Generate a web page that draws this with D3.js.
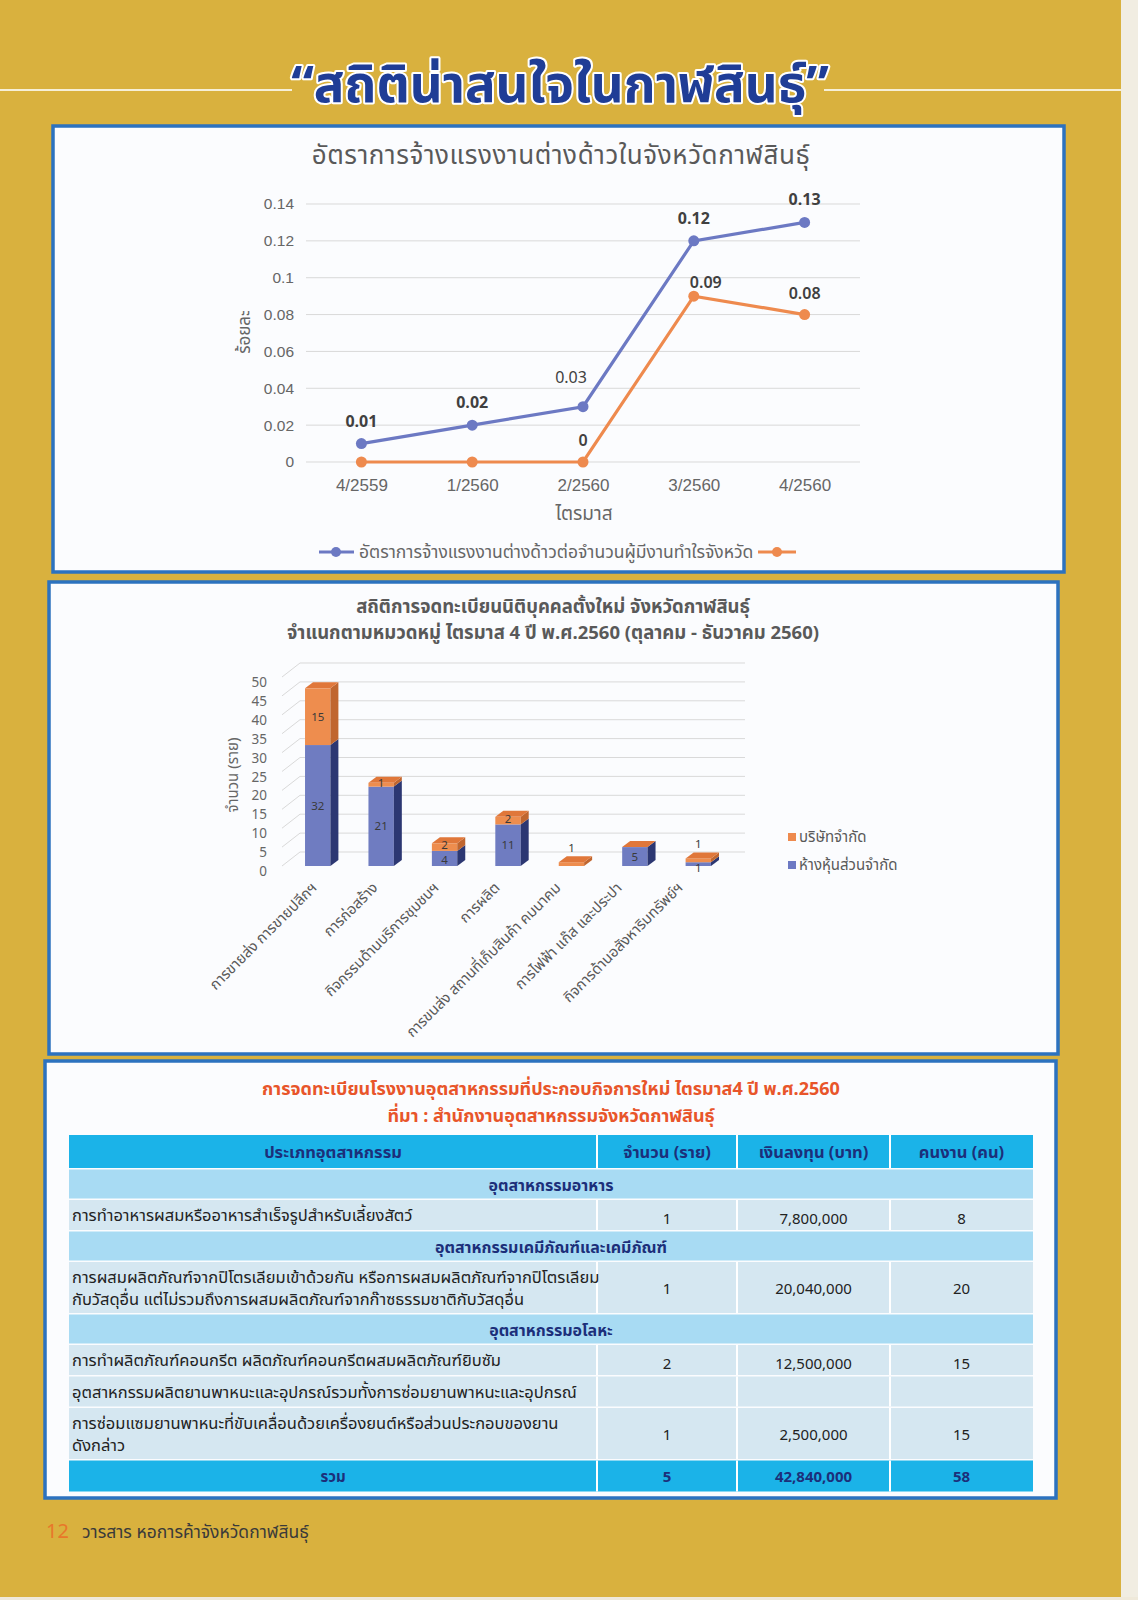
<!DOCTYPE html>
<html>
<head>
<meta charset="utf-8">
<script src="https://cdn.jsdelivr.net/npm/d3@7"></script>
<style>
  body { margin: 0; background: #d9b13e; }
  svg { display: block; font-family: "Noto Sans Thai", "Noto Sans", sans-serif; }
</style>
</head>
<body>
<svg id="page"></svg>
<script>
// ---- line chart data ----
const quarters = ['4/2559', '1/2560', '2/2560', '3/2560', '4/2560'];
const foreignRate = [0.01, 0.02, 0.03, 0.12, 0.13];
const secondRate = [0, 0, 0, 0.09, 0.08];
const rateTicks = [0, 0.02, 0.04, 0.06, 0.08, 0.1, 0.12, 0.14];

// ---- bar chart data ----
const sectors = [
  'การขายส่ง การขายปลีกฯ',
  'การก่อสร้าง',
  'กิจกรรมด้านบริการชุมชนฯ',
  'การผลิต',
  'การขนส่ง สถานที่เก็บสินค้า คมนาคม',
  'การไฟฟ้า แก๊ส และประปา',
  'กิจการด้านอสังหาริมทรัพย์ฯ'
];
const partnership = [32, 21, 4, 11, 0, 5, 1];   // ห้างหุ้นส่วนจำกัด
const company = [15, 1, 2, 2, 1, 0, 1];         // บริษัทจำกัด
const countTicks = [0, 5, 10, 15, 20, 25, 30, 35, 40, 45, 50];

// ---- table data ----
const tableHeader = ['ประเภทอุตสาหกรรม', 'จำนวน (ราย)', 'เงินลงทุน (บาท)', 'คนงาน (คน)'];
const tableRows = [
  ['section', ['อุตสาหกรรมอาหาร']],
  ['item', ['การทำอาหารผสมหรืออาหารสำเร็จรูปสำหรับเลี้ยงสัตว์'], '1', '7,800,000', '8'],
  ['section', ['อุตสาหกรรมเคมีภัณฑ์และเคมีภัณฑ์']],
  ['item', ['การผสมผลิตภัณฑ์จากปิโตรเลียมเข้าด้วยกัน หรือการผสมผลิตภัณฑ์จากปิโตรเลียม', 'กับวัสดุอื่น   แต่ไม่รวมถึงการผสมผลิตภัณฑ์จากก๊าซธรรมชาติกับวัสดุอื่น'], '1', '20,040,000', '20'],
  ['section', ['อุตสาหกรรมอโลหะ']],
  ['item', ['การทำผลิตภัณฑ์คอนกรีต   ผลิตภัณฑ์คอนกรีตผสมผลิตภัณฑ์ยิบซัม'], '2', '12,500,000', '15'],
  ['item', ['อุตสาหกรรมผลิตยานพาหนะและอุปกรณ์รวมทั้งการซ่อมยานพาหนะและอุปกรณ์'], '', '', ''],
  ['item', ['การซ่อมแซมยานพาหนะที่ขับเคลื่อนด้วยเครื่องยนต์หรือส่วนประกอบของยาน', 'ดังกล่าว'], '1', '2,500,000', '15'],
  ['total', ['รวม'], '5', '42,840,000', '58']
];

const W = 1138, H = 1600;
const svg = d3.select('#page').attr('width', W).attr('height', H);

const BLUE = '#6c79c3', ORANGE = '#ee8a4e', GRAY = '#595959';

// page background + edges
svg.append('rect').attr('width', W).attr('height', H).attr('fill', '#d9b13e');
svg.append('rect').attr('x', 1121).attr('width', 17).attr('height', H).attr('fill', '#f1ede2');
svg.append('rect').attr('y', 1597).attr('width', W).attr('height', 3).attr('fill', '#efe9da');

// ---- page title ----
svg.append('line').attr('x1', 0).attr('x2', 292).attr('y1', 90).attr('y2', 90)
    .attr('stroke', '#f6efd6').attr('stroke-width', 2);
svg.append('line').attr('x1', 824).attr('x2', 1121).attr('y1', 90).attr('y2', 90)
    .attr('stroke', '#f6efd6').attr('stroke-width', 2);
svg.append('text')
    .attr('x', 560).attr('y', 102)
    .attr('text-anchor', 'middle')
    .attr('font-size', 51).attr('font-weight', 'bold')
    .attr('fill', '#1f3d96')
    .attr('stroke', '#ffffff').attr('stroke-width', 4).attr('paint-order', 'stroke')
    .attr('stroke-linejoin', 'round')
    .text('“สถิติน่าสนใจในกาฬสินธุ์”');

// panels
function panel(x, y, w, h) {
  svg.append('rect').attr('x', x).attr('y', y).attr('width', w).attr('height', h)
      .attr('fill', '#fbfcfe').attr('stroke', '#2c72bf').attr('stroke-width', 3.5);
}
panel(53, 126, 1011, 446);
panel(49, 582, 1009, 472);
panel(45, 1061, 1011, 437);

// ================= LINE CHART =================
const lc = svg.append('g');
lc.append('text').attr('x', 561).attr('y', 164).attr('text-anchor', 'middle')
    .attr('font-size', 26).attr('fill', GRAY).attr('letter-spacing', 0.6)
    .text('อัตราการจ้างแรงงานต่างด้าวในจังหวัดกาฬสินธุ์');

const x = d3.scalePoint().domain(quarters).range([306, 860]).padding(0.5);
const y = d3.scaleLinear().domain([0, 0.14]).range([462, 204]);

lc.append('g').selectAll('line').data(rateTicks).join('line')
    .attr('x1', 306).attr('x2', 860)
    .attr('y1', d => y(d)).attr('y2', d => y(d))
    .attr('stroke', '#d9d9d9').attr('stroke-width', 1);

const yAxis = d3.axisLeft(y).tickValues(rateTicks).tickSize(0).tickPadding(12)
    .tickFormat(d => d3.format('')(+d.toFixed(2)));
lc.append('g').attr('transform', 'translate(306,0)').call(yAxis)
    .call(g => g.select('.domain').remove())
    .call(g => g.selectAll('text').attr('font-size', 15.5).attr('fill', '#666666')
        .attr('font-family', 'inherit'));

const xAxis = d3.axisBottom(x).tickSize(0).tickPadding(17);
lc.append('g').attr('transform', 'translate(0,462)').call(xAxis)
    .call(g => g.select('.domain').remove())
    .call(g => g.selectAll('text').attr('font-size', 17).attr('fill', '#666666')
        .attr('font-family', 'inherit'));

lc.append('text').attr('x', 584).attr('y', 520).attr('text-anchor', 'middle')
    .attr('font-size', 19).attr('fill', '#666666').text('ไตรมาส');
lc.append('text').attr('transform', 'translate(250,332) rotate(-90)')
    .attr('text-anchor', 'middle').attr('font-size', 17).attr('fill', '#666666').text('ร้อยละ');

const line = d3.line().x((d, i) => x(quarters[i])).y(d => y(d));
[[foreignRate, BLUE], [secondRate, ORANGE]].forEach(([vals, col]) => {
  lc.append('path').datum(vals).attr('d', line)
      .attr('fill', 'none').attr('stroke', col).attr('stroke-width', 3.2);
  lc.append('g').selectAll('circle').data(vals).join('circle')
      .attr('cx', (d, i) => x(quarters[i])).attr('cy', d => y(d)).attr('r', 5.5)
      .attr('fill', col);
});

// data labels
lc.append('g').selectAll('text').data(foreignRate).join('text')
    .attr('x', (d, i) => x(quarters[i]) + (i === 2 ? -12 : 0))
    .attr('y', (d, i) => y(d) - (i === 2 ? 24 : 17))
    .attr('text-anchor', 'middle').attr('font-size', 16)
    .attr('font-weight', (d, i) => i === 2 ? 'normal' : 'bold')
    .attr('fill', '#404040').text(d => d);
lc.append('g').selectAll('text').data(secondRate.map((v, i) => ({v, i})).filter(d => d.i >= 2)).join('text')
    .attr('x', d => x(quarters[d.i]) + (d.i === 3 ? 12 : 0))
    .attr('y', d => y(d.v) - (d.i === 3 ? 8 : 16))
    .attr('text-anchor', 'middle').attr('font-size', 16).attr('font-weight', 600)
    .attr('fill', '#404040').text(d => d.v);

// legend
const lg = lc.append('g').attr('transform', 'translate(0,552)');
lg.append('line').attr('x1', 319).attr('x2', 354).attr('stroke', BLUE).attr('stroke-width', 3.2);
lg.append('circle').attr('cx', 336).attr('r', 5).attr('fill', BLUE);
lg.append('text').attr('x', 359).attr('y', 6).attr('font-size', 17.5).attr('fill', '#666666')
    .text('อัตราการจ้างแรงงานต่างด้าวต่อจำนวนผู้มีงานทำใรจังหวัด');
lg.append('line').attr('x1', 758).attr('x2', 796).attr('stroke', ORANGE).attr('stroke-width', 3.2);
lg.append('circle').attr('cx', 777).attr('r', 5).attr('fill', ORANGE);

// ================= 3D STACKED BAR CHART =================
const bc = svg.append('g');
bc.append('text').attr('x', 553).attr('y', 613).attr('text-anchor', 'middle')
    .attr('font-size', 18.5).attr('font-weight', 'bold').attr('fill', GRAY)
    .text('สถิติการจดทะเบียนนิติบุคคลตั้งใหม่ จังหวัดกาฬสินธุ์');
bc.append('text').attr('x', 553).attr('y', 639).attr('text-anchor', 'middle')
    .attr('font-size', 18.5).attr('font-weight', 'bold').attr('fill', GRAY)
    .text('จำแนกตามหมวดหมู่ ไตรมาส 4  ปี พ.ศ.2560 (ตุลาคม - ธันวาคม 2560)');

const xb = d3.scaleBand().domain(sectors).range([286, 730]).paddingInner(0.6).paddingOuter(0.3);
const yb = d3.scaleLinear().domain([0, 50]).range([866, 677]);
const wallDx = 18, wallDy = -14;   // back wall offset
const dDx = 8, dDy = -6;           // bar depth

// gridlines: side diagonal + back wall
bc.append('g').selectAll('path').data(countTicks).join('path')
    .attr('d', d => `M282,${yb(d)}L${282 + wallDx},${yb(d) + wallDy}L745,${yb(d) + wallDy}`)
    .attr('fill', 'none').attr('stroke', '#d9d9d9').attr('stroke-width', 1);

bc.append('g').selectAll('text').data(countTicks).join('text')
    .attr('x', 267).attr('y', d => yb(d) + 10).attr('text-anchor', 'end')
    .attr('font-size', 13.5).attr('fill', '#666666').text(d => d);

bc.append('text').attr('transform', 'translate(238,775) rotate(-90)')
    .attr('text-anchor', 'middle').attr('font-size', 15).attr('fill', '#666666').text('จำนวน (ราย)');

const series = [
  {key: 'partnership', vals: partnership, front: '#6f7cc1', side: '#2c3772', top: '#8591cf'},
  {key: 'company', vals: company, front: '#ee8d4e', side: '#c0662f', top: '#e0773a'}
];
const stackData = sectors.map((s, i) => ({s, partnership: partnership[i], company: company[i]}));
const stacked = d3.stack().keys(['partnership', 'company'])(stackData);

const bw = xb.bandwidth();
stacked.forEach((layer, li) => {
  const sty = series[li];
  const g = bc.append('g');
  layer.forEach((seg, i) => {
    const x0 = xb(sectors[i]);
    const yTop = yb(seg[1]), yBot = yb(seg[0]);
    if (seg[1] - seg[0] > 0) {
      g.append('rect').attr('x', x0).attr('y', yTop).attr('width', bw).attr('height', yBot - yTop)
          .attr('fill', sty.front);
      g.append('path')
          .attr('d', `M${x0 + bw},${yTop}L${x0 + bw + dDx},${yTop + dDy}L${x0 + bw + dDx},${yBot + dDy}L${x0 + bw},${yBot}Z`)
          .attr('fill', sty.side);
    }
  });
});
// top caps (in the colour of the top series, like the reference)
bc.append('g').selectAll('path').data(stackData).join('path')
    .attr('d', d => {
      const x0 = xb(d.s), yt = yb(d.partnership + d.company);
      return `M${x0},${yt}L${x0 + dDx},${yt + dDy}L${x0 + bw + dDx},${yt + dDy}L${x0 + bw},${yt}Z`;
    })
    .attr('fill', series[1].top);

// segment labels
stacked.forEach((layer, li) => {
  bc.append('g').selectAll('text').data(layer.filter(seg => seg[1] - seg[0] > 0)).join('text')
      .attr('x', seg => xb(seg.data.s) + bw / 2)
      .attr('y', seg => {
        const tiny = seg.data.partnership + seg.data.company <= 2;
        const short = yb(seg[0]) - yb(seg[1]) < 18;
        if (tiny && li === 1) return yb(seg[1]) - 10;
        if (tiny) return yb(seg[0]) + 6;
        const mid = (yb(seg[0]) + yb(seg[1])) / 2;
        if (short) return mid + (li === 1 ? 2 : 6);
        return mid + 4;
      })
      .attr('text-anchor', 'middle').attr('font-size', 11.5)
      .attr('fill', '#3a3a3a')
      .text(seg => seg[1] - seg[0]);
});

// category labels
const xl = d3.scalePoint().domain(sectors).range([314, 680]);
bc.append('g').selectAll('text').data(sectors).join('text')
    .attr('transform', d => `translate(${xl(d)},885) rotate(-45)`)
    .attr('text-anchor', 'end').attr('dy', '0.35em')
    .attr('font-size', 14.8).attr('fill', GRAY).text(d => d);

// legend
const blg = bc.append('g');
[['บริษัทจำกัด', ORANGE, 837], ['ห้างหุ้นส่วนจำกัด', BLUE, 865]].forEach(([t, c, yy]) => {
  blg.append('rect').attr('x', 788).attr('y', yy - 4).attr('width', 8).attr('height', 8).attr('fill', c);
  blg.append('text').attr('x', 799).attr('y', yy + 5).attr('font-size', 15).attr('fill', GRAY).text(t);
});

// ================= TABLE =================
const tb = svg.append('g');
const RED = '#e8552a', NAVY = '#1c2f7a';
tb.append('text').attr('x', 551).attr('y', 1095).attr('text-anchor', 'middle')
    .attr('font-size', 18).attr('font-weight', 'bold').attr('fill', RED)
    .text('การจดทะเบียนโรงงานอุตสาหกรรมที่ประกอบกิจการใหม่ ไตรมาส4 ปี พ.ศ.2560');
tb.append('text').attr('x', 551).attr('y', 1122).attr('text-anchor', 'middle')
    .attr('font-size', 18).attr('font-weight', 'bold').attr('fill', RED)
    .text('ที่มา : สำนักงานอุตสาหกรรมจังหวัดกาฬสินธุ์');

const cols = [69, 597, 737, 890, 1033];
const colCenter = i => (cols[i] + cols[i + 1]) / 2;
const fills = {header: '#1bb3e8', section: '#a8dbf3', item: '#d5e7f1', total: '#1bb3e8'};

let yPos = 1135;
const rowsAll = [['header', [tableHeader[0]], tableHeader[1], tableHeader[2], tableHeader[3]]].concat(tableRows);
rowsAll.forEach(r => {
  const kind = r[0], names = r[1];
  const h = kind === 'header' ? 33 : kind === 'section' ? 29 : kind === 'total' ? 31 : (names.length > 1 ? 51 : 30);
  tb.append('rect').attr('x', cols[0]).attr('y', yPos).attr('width', cols[4] - cols[0]).attr('height', h)
      .attr('fill', fills[kind]);
  if (kind !== 'section') {
    cols.slice(1, 4).forEach(cx => {
      tb.append('line').attr('x1', cx).attr('x2', cx).attr('y1', yPos).attr('y2', yPos + h)
          .attr('stroke', '#ffffff').attr('stroke-width', 2);
    });
  }
  const bold = kind !== 'item';
  const col = kind === 'item' ? '#222222' : NAVY;
  const fs = kind === 'header' ? 16.5 : 15;
  const midY = yPos + h / 2;
  if (kind === 'section') {
    tb.append('text').attr('x', 551).attr('y', midY + 7).attr('text-anchor', 'middle')
        .attr('font-size', 16).attr('font-weight', 'bold').attr('fill', NAVY).text(names[0]);
  } else if (kind === 'item') {
    names.forEach((n, k) => {
      tb.append('text').attr('x', 72).attr('y', midY + 6 + (k - (names.length - 1) / 2) * 22)
          .attr('font-size', 16.5).attr('fill', col).text(n);
    });
  } else {
    tb.append('text').attr('x', colCenter(0)).attr('y', midY + 6).attr('text-anchor', 'middle')
        .attr('font-size', fs).attr('font-weight', 'bold').attr('fill', NAVY).text(names[0]);
  }
  if (kind !== 'section') {
    [r[2], r[3], r[4]].forEach((v, k) => {
      tb.append('text').attr('x', colCenter(k + 1)).attr('y', midY + 6 + (kind === 'item' && names.length === 1 ? 3 : 0))
          .attr('text-anchor', 'middle').attr('font-size', kind === 'header' ? fs : 15)
          .attr('font-weight', bold ? 'bold' : 'normal').attr('fill', col).text(v);
    });
  }
  yPos += h + 1.5;
});

// ---- footer ----
svg.append('text').attr('x', 46).attr('y', 1538).attr('font-size', 20).attr('fill', '#e8772a').text('12');
svg.append('text').attr('x', 82).attr('y', 1538).attr('font-size', 17.5).attr('fill', '#3a3a3a')
    .text('วารสาร หอการค้าจังหวัดกาฬสินธุ์');
</script>
</body>
</html>
